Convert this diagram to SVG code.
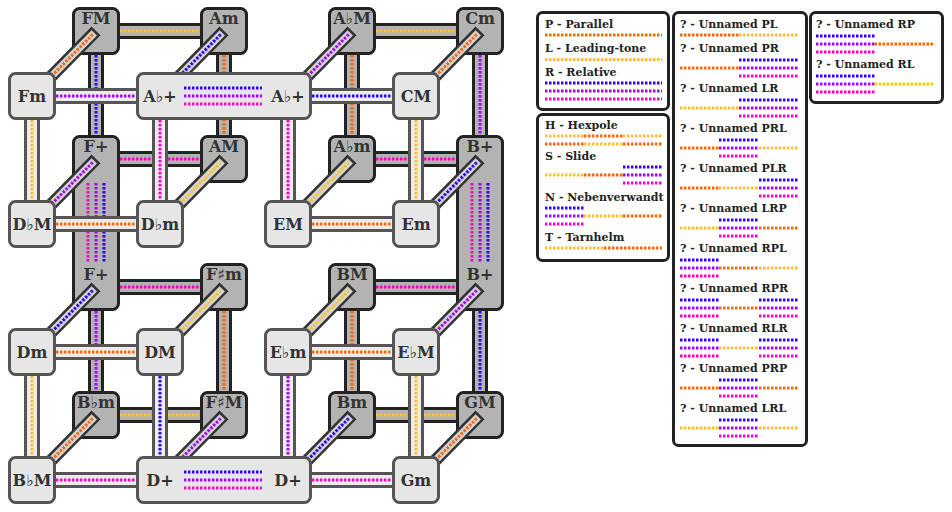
<svg xmlns="http://www.w3.org/2000/svg" width="952" height="512" viewBox="0 0 952 512">
<style>
.bo{fill:none;stroke:#222;stroke-width:16}
.bi{fill:none;stroke:#b3b3b3;stroke-width:10}
.fo{fill:none;stroke:#555;stroke-width:16}
.fi{fill:none;stroke:#ececec;stroke-width:10}
.dg{fill:#d4d4d4;stroke:#333;stroke-width:2.5}
.d{fill:none;stroke-width:3;stroke-dasharray:2.5 1.5}
.o{stroke:#ff6600}.y{stroke:#ffc125}.b{stroke:#3300ff}.p{stroke:#aa00ff}.m{stroke:#ff00cc}
.bk{fill:#b3b3b3;stroke:#222;stroke-width:3}
.fr{fill:#e6e6e6;stroke:#555;stroke-width:3}
.l{font-family:"DejaVu Serif",serif;font-weight:bold;font-size:16px;fill:#333;text-anchor:middle}
.fl{font-family:"DejaVu Sans",sans-serif;font-weight:normal}
.pn{fill:#fff;stroke:#222;stroke-width:3}
.t{font-family:"DejaVu Serif",serif;font-weight:bold;font-size:11px;fill:#222}
</style>
<rect width="952" height="512" fill="#fff"/>
<g id="connectors-back">
<path class="bo" d="M96 31H224M352 31H480M96 159H224M352 159H480M96 287H224M352 287H480M96 415H224M352 415H480M96 31V159M96 287V415M224 31V159M224 287V415M352 31V159M352 287V415M480 31V159M480 287V415"/>
<path class="bi" d="M96 31H224M352 31H480M96 159H224M352 159H480M96 287H224M352 287H480M96 415H224M352 415H480M96 31V159M96 287V415M224 31V159M224 287V415M352 31V159M352 287V415M480 31V159M480 287V415"/>
<path class="d y" d="M96 31H224M352 31H480M96 415H224M352 415H480"/>
<path class="d m" d="M96 159H224M352 159H480M96 287H224M352 287H480"/>
<path class="d b" d="M96 31V159M480 287V415"/>
<path class="d p" d="M96 287V415M480 31V159"/>
<path class="d o" d="M224 31V159M224 287V415M352 31V159M352 287V415"/>
</g>
<g id="node-FM"><rect class="bk" x="73.5" y="8.5" width="45" height="45" rx="6"/><text class="l" x="96" y="24">FM</text></g>
<g id="node-Am"><rect class="bk" x="201.5" y="8.5" width="45" height="45" rx="6"/><text class="l" x="224" y="24">Am</text></g>
<g id="node-AbM"><rect class="bk" x="329.5" y="8.5" width="45" height="45" rx="6"/><text class="l" x="352" y="24">A<tspan class="fl">♭</tspan>M</text></g>
<g id="node-Cm"><rect class="bk" x="457.5" y="8.5" width="45" height="45" rx="6"/><text class="l" x="480" y="24">Cm</text></g>
<g id="node-Fplus"><rect class="bk" x="73.5" y="136.5" width="45" height="173" rx="6"/><text class="l" x="96" y="152">F+</text><text class="l" x="96" y="280">F+</text>
<path class="d m" d="M88 183V262"/><path class="d p" d="M96 183V262"/><path class="d b" d="M104 183V262"/></g>
<g id="node-AM"><rect class="bk" x="201.5" y="136.5" width="45" height="45" rx="6"/><text class="l" x="224" y="152">AM</text></g>
<g id="node-Abm"><rect class="bk" x="329.5" y="136.5" width="45" height="45" rx="6"/><text class="l" x="352" y="152">A<tspan class="fl">♭</tspan>m</text></g>
<g id="node-Bplus"><rect class="bk" x="457.5" y="136.5" width="45" height="173" rx="6"/><text class="l" x="480" y="152">B+</text><text class="l" x="480" y="280">B+</text>
<path class="d m" d="M472 183V262"/><path class="d p" d="M480 183V262"/><path class="d b" d="M488 183V262"/></g>
<g id="node-Fsm"><rect class="bk" x="201.5" y="264.5" width="45" height="45" rx="6"/><text class="l" x="224" y="280">F<tspan class="fl">♯</tspan>m</text></g>
<g id="node-BM"><rect class="bk" x="329.5" y="264.5" width="45" height="45" rx="6"/><text class="l" x="352" y="280">BM</text></g>
<g id="node-Bbm"><rect class="bk" x="73.5" y="392.5" width="45" height="45" rx="6"/><text class="l" x="96" y="408">B<tspan class="fl">♭</tspan>m</text></g>
<g id="node-FsM"><rect class="bk" x="201.5" y="392.5" width="45" height="45" rx="6"/><text class="l" x="224" y="408">F<tspan class="fl">♯</tspan>M</text></g>
<g id="node-Bm"><rect class="bk" x="329.5" y="392.5" width="45" height="45" rx="6"/><text class="l" x="352" y="408">Bm</text></g>
<g id="node-GM"><rect class="bk" x="457.5" y="392.5" width="45" height="45" rx="6"/><text class="l" x="480" y="408">GM</text></g>
<g id="connectors-diagonal">
<g transform="translate(32 96) rotate(-45.44)"><rect class="dg" x="0" y="-5" width="90" height="10"/><line class="d o" x1="0" y1="0" x2="87" y2="0"/></g>
<g transform="translate(160 96) rotate(-45.44)"><rect class="dg" x="0" y="-5" width="90" height="10"/><line class="d b" x1="0" y1="0" x2="87" y2="0"/></g>
<g transform="translate(288 96) rotate(-45.44)"><rect class="dg" x="0" y="-5" width="90" height="10"/><line class="d p" x1="0" y1="0" x2="87" y2="0"/></g>
<g transform="translate(416 96) rotate(-45.44)"><rect class="dg" x="0" y="-5" width="90" height="10"/><line class="d o" x1="0" y1="0" x2="87" y2="0"/></g>
<g transform="translate(32 224) rotate(-45.44)"><rect class="dg" x="0" y="-5" width="90" height="10"/><line class="d p" x1="0" y1="0" x2="87" y2="0"/></g>
<g transform="translate(160 224) rotate(-45.44)"><rect class="dg" x="0" y="-5" width="90" height="10"/><line class="d y" x1="0" y1="0" x2="87" y2="0"/></g>
<g transform="translate(288 224) rotate(-45.44)"><rect class="dg" x="0" y="-5" width="90" height="10"/><line class="d y" x1="0" y1="0" x2="87" y2="0"/></g>
<g transform="translate(416 224) rotate(-45.44)"><rect class="dg" x="0" y="-5" width="90" height="10"/><line class="d b" x1="0" y1="0" x2="87" y2="0"/></g>
<g transform="translate(32 352) rotate(-45.44)"><rect class="dg" x="0" y="-5" width="90" height="10"/><line class="d b" x1="0" y1="0" x2="87" y2="0"/></g>
<g transform="translate(160 352) rotate(-45.44)"><rect class="dg" x="0" y="-5" width="90" height="10"/><line class="d y" x1="0" y1="0" x2="87" y2="0"/></g>
<g transform="translate(288 352) rotate(-45.44)"><rect class="dg" x="0" y="-5" width="90" height="10"/><line class="d y" x1="0" y1="0" x2="87" y2="0"/></g>
<g transform="translate(416 352) rotate(-45.44)"><rect class="dg" x="0" y="-5" width="90" height="10"/><line class="d p" x1="0" y1="0" x2="87" y2="0"/></g>
<g transform="translate(32 480) rotate(-45.44)"><rect class="dg" x="0" y="-5" width="90" height="10"/><line class="d o" x1="0" y1="0" x2="87" y2="0"/></g>
<g transform="translate(160 480) rotate(-45.44)"><rect class="dg" x="0" y="-5" width="90" height="10"/><line class="d p" x1="0" y1="0" x2="87" y2="0"/></g>
<g transform="translate(288 480) rotate(-45.44)"><rect class="dg" x="0" y="-5" width="90" height="10"/><line class="d b" x1="0" y1="0" x2="87" y2="0"/></g>
<g transform="translate(416 480) rotate(-45.44)"><rect class="dg" x="0" y="-5" width="90" height="10"/><line class="d o" x1="0" y1="0" x2="87" y2="0"/></g>
</g>
<g id="connectors-front">
<path class="fo" d="M32 96H160M288 96H416M32 224H160M288 224H416M32 352H160M288 352H416M32 480H160M288 480H416M32 96V224M32 352V480M160 96V224M160 352V480M288 96V224M288 352V480M416 96V224M416 352V480"/>
<path class="fi" d="M32 96H160M288 96H416M32 224H160M288 224H416M32 352H160M288 352H416M32 480H160M288 480H416M32 96V224M32 352V480M160 96V224M160 352V480M288 96V224M288 352V480M416 96V224M416 352V480"/>
<path class="d p" d="M32 96H160M288 352V480"/>
<path class="d b" d="M288 96H416M160 352V480"/>
<path class="d o" d="M32 224H160M288 224H416M32 352H160M288 352H416"/>
<path class="d m" d="M32 480H160M288 480H416M160 96V224M288 96V224"/>
<path class="d y" d="M32 96V224M32 352V480M416 96V224M416 352V480"/>
</g>
<g id="node-Fm"><rect class="fr" x="9.5" y="73.5" width="45" height="45" rx="6"/><text class="l" x="32" y="102">Fm</text></g>
<g id="node-Abplus"><rect class="fr" x="137.5" y="73.5" width="173" height="45" rx="6"/><text class="l" x="160" y="102">A<tspan class="fl">♭</tspan>+</text><text class="l" x="288" y="102">A<tspan class="fl">♭</tspan>+</text>
<path class="d b" d="M184 88H262"/><path class="d p" d="M184 96H262"/><path class="d m" d="M184 104H262"/></g>
<g id="node-CM"><rect class="fr" x="393.5" y="73.5" width="45" height="45" rx="6"/><text class="l" x="416" y="102">CM</text></g>
<g id="node-DbM"><rect class="fr" x="9.5" y="201.5" width="45" height="45" rx="6"/><text class="l" x="32" y="230">D<tspan class="fl">♭</tspan>M</text></g>
<g id="node-Dbm"><rect class="fr" x="137.5" y="201.5" width="45" height="45" rx="6"/><text class="l" x="160" y="230">D<tspan class="fl">♭</tspan>m</text></g>
<g id="node-EM"><rect class="fr" x="265.5" y="201.5" width="45" height="45" rx="6"/><text class="l" x="288" y="230">EM</text></g>
<g id="node-Em"><rect class="fr" x="393.5" y="201.5" width="45" height="45" rx="6"/><text class="l" x="416" y="230">Em</text></g>
<g id="node-Dm"><rect class="fr" x="9.5" y="329.5" width="45" height="45" rx="6"/><text class="l" x="32" y="358">Dm</text></g>
<g id="node-DM"><rect class="fr" x="137.5" y="329.5" width="45" height="45" rx="6"/><text class="l" x="160" y="358">DM</text></g>
<g id="node-Ebm"><rect class="fr" x="265.5" y="329.5" width="45" height="45" rx="6"/><text class="l" x="288" y="358">E<tspan class="fl">♭</tspan>m</text></g>
<g id="node-EbM"><rect class="fr" x="393.5" y="329.5" width="45" height="45" rx="6"/><text class="l" x="416" y="358">E<tspan class="fl">♭</tspan>M</text></g>
<g id="node-BbM"><rect class="fr" x="9.5" y="457.5" width="45" height="45" rx="6"/><text class="l" x="32" y="486">B<tspan class="fl">♭</tspan>M</text></g>
<g id="node-Dplus"><rect class="fr" x="137.5" y="457.5" width="173" height="45" rx="6"/><text class="l" x="160" y="486">D+</text><text class="l" x="288" y="486">D+</text>
<path class="d b" d="M184 472H262"/><path class="d p" d="M184 480H262"/><path class="d m" d="M184 488H262"/></g>
<g id="node-Gm"><rect class="fr" x="393.5" y="457.5" width="45" height="45" rx="6"/><text class="l" x="416" y="486">Gm</text></g>
<g id="legend-1">
<rect class="pn" x="537.5" y="12.5" width="131" height="97" rx="5"/>
<text class="t" x="545" y="28">P - Parallel</text>
<path class="d o" d="M545 35H662"/>
<text class="t" x="545" y="52">L - Leading-tone</text>
<path class="d y" d="M545 59.5H662"/>
<text class="t" x="545" y="76">R - Relative</text>
<path class="d b" d="M545 83H662"/><path class="d p" d="M545 91H662"/><path class="d m" d="M545 99H662"/>
</g>
<g id="legend-2">
<rect class="pn" x="537.5" y="114.5" width="131" height="146" rx="5"/>
<text class="t" x="545" y="129">H - Hexpole</text>
<path class="d y" d="M545 136H584M623 136H662"/><path class="d o" d="M584 136H623"/>
<path class="d o" d="M545 144H584M623 144H662"/><path class="d y" d="M584 144H623"/>
<text class="t" x="545" y="160">S - Slide</text>
<path class="d b" d="M623 167H662"/>
<path class="d y" d="M545 175H584"/><path class="d o" d="M584 175H623"/><path class="d p" d="M623 175H662"/>
<path class="d m" d="M623 183H662"/>
<text class="t" x="545" y="200.5">N - Nebenverwandt</text>
<path class="d b" d="M545 208H584"/>
<path class="d p" d="M545 216H584"/><path class="d y" d="M584 216H623"/><path class="d o" d="M623 216H662"/>
<path class="d m" d="M545 224H584"/>
<text class="t" x="545" y="241">T - Tarnhelm</text>
<path class="d y" d="M545 248H604"/><path class="d o" d="M604 248H662"/>
</g>
<g id="legend-3">
<rect class="pn" x="673.5" y="12.5" width="133" height="433" rx="5"/>
<text class="t" x="680" y="28">? - Unnamed PL</text>
<path class="d o" d="M680 35H739"/><path class="d y" d="M739 35H798"/>
<text class="t" x="680" y="52">? - Unnamed PR</text>
<path class="d b" d="M739 60H798"/><path class="d o" d="M680 68H739"/><path class="d p" d="M739 68H798"/><path class="d m" d="M739 76H798"/>
<text class="t" x="680" y="92">? - Unnamed LR</text>
<path class="d b" d="M739 100H798"/><path class="d y" d="M680 108H739"/><path class="d p" d="M739 108H798"/><path class="d m" d="M739 116H798"/>
<text class="t" x="680" y="132">? - Unnamed PRL</text>
<path class="d b" d="M719 140H759"/><path class="d o" d="M680 148H719"/><path class="d p" d="M719 148H759"/><path class="d y" d="M759 148H798"/><path class="d m" d="M719 156H759"/>
<text class="t" x="680" y="172">? - Unnamed PLR</text>
<path class="d b" d="M759 180H798"/><path class="d o" d="M680 188H719"/><path class="d y" d="M719 188H759"/><path class="d p" d="M759 188H798"/><path class="d m" d="M759 196H798"/>
<text class="t" x="680" y="212">? - Unnamed LRP</text>
<path class="d b" d="M719 220H759"/><path class="d y" d="M680 228H719"/><path class="d p" d="M719 228H759"/><path class="d o" d="M759 228H798"/><path class="d m" d="M719 236H759"/>
<text class="t" x="680" y="252">? - Unnamed RPL</text>
<path class="d b" d="M680 260H719"/><path class="d p" d="M680 268H719"/><path class="d o" d="M719 268H759"/><path class="d y" d="M759 268H798"/><path class="d m" d="M680 276H719"/>
<text class="t" x="680" y="292">? - Unnamed RPR</text>
<path class="d b" d="M680 300H719M759 300H798"/><path class="d p" d="M680 308H719M759 308H798"/><path class="d o" d="M719 308H759"/><path class="d m" d="M680 316H719M759 316H798"/>
<text class="t" x="680" y="332">? - Unnamed RLR</text>
<path class="d b" d="M680 340H719M759 340H798"/><path class="d p" d="M680 348H719M759 348H798"/><path class="d y" d="M719 348H759"/><path class="d m" d="M680 356H719M759 356H798"/>
<text class="t" x="680" y="372">? - Unnamed PRP</text>
<path class="d b" d="M719 380H759"/><path class="d o" d="M680 388H719M759 388H798"/><path class="d p" d="M719 388H759"/><path class="d m" d="M719 396H759"/>
<text class="t" x="680" y="412">? - Unnamed LRL</text>
<path class="d b" d="M719 420H759"/><path class="d y" d="M680 428H719M759 428H798"/><path class="d p" d="M719 428H759"/><path class="d m" d="M719 436H759"/>
</g>
<g id="legend-4">
<rect class="pn" x="810.5" y="12.5" width="132" height="90" rx="5"/>
<text class="t" x="816" y="28">? - Unnamed RP</text>
<path class="d b" d="M816 36H874.5"/><path class="d p" d="M816 44H874.5"/><path class="d o" d="M874.5 44H933"/><path class="d m" d="M816 52H874.5"/>
<text class="t" x="816" y="68">? - Unnamed RL</text>
<path class="d b" d="M816 76H874.5"/><path class="d p" d="M816 84H874.5"/><path class="d y" d="M874.5 84H933"/><path class="d m" d="M816 92H874.5"/>
</g>
</svg>
